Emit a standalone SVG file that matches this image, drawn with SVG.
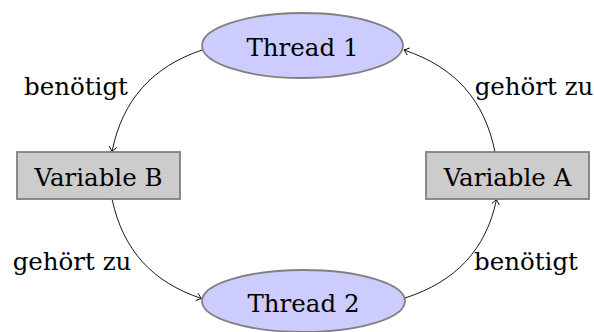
<svg xmlns="http://www.w3.org/2000/svg" width="594" height="332" viewBox="0 0 594 332">
<defs>
<style>
text{font-family:'DejaVu Serif',serif;font-size:24.5px;fill:#000}
.thread{fill:#ccccff;stroke:#808080;stroke-width:1.8}
.var{fill:#cccccc;stroke:#808080;stroke-width:1.8}
.edge{fill:none;stroke:#000;stroke-width:0.9;marker-end:url(#arr)}
</style>
<marker id="arr" viewBox="-6 -5 8 10" markerWidth="8" markerHeight="10" refX="0" refY="0" orient="auto" markerUnits="userSpaceOnUse">
<path d="M-4.5,-3.5 Q-1.2,-0.8 0,0 Q-1.2,0.8 -4.5,3.5" fill="none" stroke="#000" stroke-width="0.9" stroke-linecap="round"/>
</marker>
</defs>
<rect width="594" height="332" fill="#fff"/>
<g id="connectors">
<path class="edge" d="M202,50 C152,67 122.5,100 112,151.5"/>
<path class="edge" d="M495,152 C484.5,100 455,67 404,50"/>
<path class="edge" d="M112,199 C123,250 152,282 201.5,298.5"/>
<path class="edge" d="M405,298 C455,282 486,250 496.5,199.5"/>
</g>
<g id="labels">
<text x="76" y="95" text-anchor="middle">benötigt</text>
<text x="534" y="95" text-anchor="middle">gehört zu</text>
<text x="72" y="270" text-anchor="middle">gehört zu</text>
<text x="526" y="270" text-anchor="middle">benötigt</text>
</g>
<g id="thread1">
<ellipse class="thread" cx="302.5" cy="45.5" rx="100.5" ry="32.5"/>
<text x="302.5" y="56" text-anchor="middle">Thread 1</text>
</g>
<g id="thread2">
<ellipse class="thread" cx="303.5" cy="301" rx="101.5" ry="31"/>
<text x="303.5" y="312" text-anchor="middle">Thread 2</text>
</g>
<g id="variableB">
<rect class="var" x="17" y="152" width="163" height="47"/>
<text x="98.5" y="186" text-anchor="middle">Variable B</text>
</g>
<g id="variableA">
<rect class="var" x="426" y="152" width="163" height="47"/>
<text x="507.5" y="186" text-anchor="middle">Variable A</text>
</g>
</svg>
